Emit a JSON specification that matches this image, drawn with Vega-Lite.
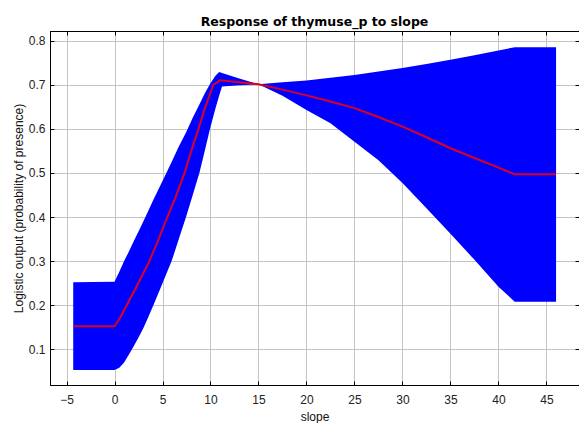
{
  "$schema": "https://vega.github.io/schema/vega-lite/v6.json",
  "width": 529,
  "height": 354,
  "autosize": "none",
  "padding": {"left": 50, "top": 31, "right": 0, "bottom": 38},
  "background": "white",
  "title": {"text": "Response of thymuse_p to slope", "font": "DejaVu Sans", "fontSize": 12.5, "fontWeight": "bold", "color": "black", "anchor": "middle", "offset": 2},
  "config": {"view": {"stroke": "black", "strokeWidth": 1}},
  "datasets": {
    "band": [
      {"x": -4.3, "lo": 0.053, "hi": 0.252},
      {"x": 0, "lo": 0.053, "hi": 0.253},
      {"x": 0.5, "lo": 0.058, "hi": 0.276},
      {"x": 1.0, "lo": 0.07, "hi": 0.3},
      {"x": 1.5, "lo": 0.088, "hi": 0.322},
      {"x": 2.0, "lo": 0.107, "hi": 0.345},
      {"x": 2.5, "lo": 0.127, "hi": 0.367},
      {"x": 3.0, "lo": 0.148, "hi": 0.39},
      {"x": 3.5, "lo": 0.172, "hi": 0.413},
      {"x": 4.05, "lo": 0.2, "hi": 0.439},
      {"x": 5.0, "lo": 0.25, "hi": 0.482},
      {"x": 5.95, "lo": 0.3, "hi": 0.525},
      {"x": 6.7, "lo": 0.35, "hi": 0.56},
      {"x": 7.45, "lo": 0.4, "hi": 0.592},
      {"x": 8.15, "lo": 0.45, "hi": 0.625},
      {"x": 8.84, "lo": 0.5, "hi": 0.655},
      {"x": 9.4, "lo": 0.55, "hi": 0.68},
      {"x": 9.95, "lo": 0.6, "hi": 0.702},
      {"x": 10.5, "lo": 0.645, "hi": 0.72},
      {"x": 10.9, "lo": 0.675, "hi": 0.729},
      {"x": 11.2, "lo": 0.696, "hi": 0.727},
      {"x": 13, "lo": 0.699, "hi": 0.714},
      {"x": 15, "lo": 0.701, "hi": 0.701},
      {"x": 17.5, "lo": 0.675, "hi": 0.706},
      {"x": 20, "lo": 0.643, "hi": 0.71},
      {"x": 22.5, "lo": 0.613, "hi": 0.716},
      {"x": 25, "lo": 0.571, "hi": 0.722},
      {"x": 27.5, "lo": 0.529, "hi": 0.73},
      {"x": 30, "lo": 0.477, "hi": 0.738},
      {"x": 32.5, "lo": 0.42, "hi": 0.747},
      {"x": 35, "lo": 0.362, "hi": 0.757},
      {"x": 37.5, "lo": 0.303, "hi": 0.767},
      {"x": 40, "lo": 0.242, "hi": 0.778},
      {"x": 41.7, "lo": 0.208, "hi": 0.785},
      {"x": 46, "lo": 0.208, "hi": 0.785}
    ],
    "mean": [
      {"x": -4.3, "mean": 0.152},
      {"x": 0, "mean": 0.152},
      {"x": 0.6, "mean": 0.172},
      {"x": 1.27, "mean": 0.2},
      {"x": 2.0, "mean": 0.23},
      {"x": 2.8, "mean": 0.264},
      {"x": 3.63, "mean": 0.3},
      {"x": 4.6, "mean": 0.35},
      {"x": 5.5, "mean": 0.4},
      {"x": 6.3, "mean": 0.442},
      {"x": 7.3, "mean": 0.5},
      {"x": 8.0, "mean": 0.55},
      {"x": 8.75, "mean": 0.6},
      {"x": 9.5, "mean": 0.652},
      {"x": 10.3, "mean": 0.7},
      {"x": 11.0, "mean": 0.71},
      {"x": 13, "mean": 0.706},
      {"x": 15, "mean": 0.701},
      {"x": 17.5, "mean": 0.689},
      {"x": 20, "mean": 0.676},
      {"x": 22.5, "mean": 0.662},
      {"x": 25, "mean": 0.647},
      {"x": 27.5, "mean": 0.627},
      {"x": 30, "mean": 0.605},
      {"x": 32.5, "mean": 0.581},
      {"x": 35, "mean": 0.556},
      {"x": 37.5, "mean": 0.534},
      {"x": 40, "mean": 0.512},
      {"x": 41.7, "mean": 0.497},
      {"x": 46, "mean": 0.497}
    ]
  },
  "layer": [
    {
      "data": {"name": "band"},
      "mark": {"type": "area", "color": "#0000ff", "opacity": 1},
      "encoding": {
        "x": {"field": "x", "type": "quantitative",
          "scale": {"domain": [-6.72, 48.39], "nice": false, "zero": false},
          "axis": {"orient": "bottom", "values": [-5, 0, 5, 10, 15, 20, 25, 30, 35, 40, 45], "title": "slope",
            "labelFont": "Liberation Sans", "labelFontSize": 12, "labelColor": "#222", "labelPadding": 13,
            "titleFont": "Liberation Sans", "titleFontSize": 12, "titleFontWeight": "normal", "titleColor": "#111", "titlePadding": 6,
            "domainColor": "black", "tickColor": "black", "tickSize": -4,
            "grid": true, "gridColor": "#c4c4c4", "gridWidth": 1}},
        "y": {"field": "lo", "type": "quantitative",
          "scale": {"domain": [0.019, 0.822], "nice": false, "zero": false},
          "axis": {"orient": "left", "values": [0.1, 0.2, 0.3, 0.4, 0.5, 0.6, 0.7, 0.8], "format": ".1f", "title": "Logistic output (probability of presence)",
            "labelFont": "Liberation Sans", "labelFontSize": 12, "labelColor": "#222", "labelPadding": 9,
            "titleFont": "Liberation Sans", "titleFontSize": 12, "titleFontWeight": "normal", "titleColor": "#111", "titlePadding": 3,
            "domainColor": "black", "tickColor": "black", "tickSize": -4,
            "grid": true, "gridColor": "#c4c4c4", "gridWidth": 1}},
        "y2": {"field": "hi"}
      }
    },
    {
      "data": {"name": "mean"},
      "mark": {"type": "line", "color": "#dc0020", "strokeWidth": 2},
      "encoding": {
        "x": {"field": "x", "type": "quantitative",
          "scale": {"domain": [-6.72, 48.39], "nice": false, "zero": false},
          "axis": {"orient": "top", "values": [-5, 0, 5, 10, 15, 20, 25, 30, 35, 40, 45], "title": null, "labels": false,
            "domainColor": "black", "tickColor": "black", "tickSize": -4, "grid": false}},
        "y": {"field": "mean", "type": "quantitative",
          "scale": {"domain": [0.019, 0.822], "nice": false, "zero": false},
          "axis": {"orient": "right", "values": [0.1, 0.2, 0.3, 0.4, 0.5, 0.6, 0.7, 0.8], "title": null, "labels": false,
            "domainColor": "black", "tickColor": "black", "tickSize": -4, "grid": false}}
      }
    }
  ],
  "resolve": {"axis": {"x": "independent", "y": "independent"}}
}
